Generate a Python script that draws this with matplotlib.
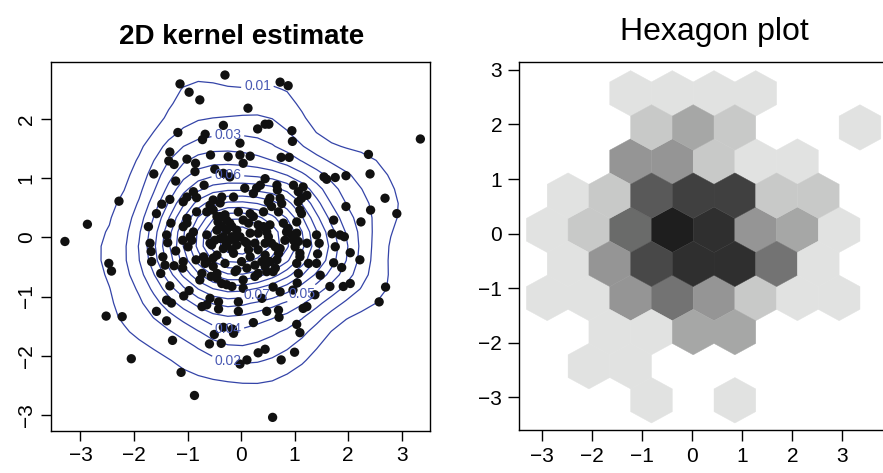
import numpy as np
import matplotlib
matplotlib.use("Agg")
import matplotlib.pyplot as plt
from matplotlib.colors import LinearSegmentedColormap

plt.rcParams['font.family'] = ['Liberation Sans', 'DejaVu Sans']

# scatter points
pts_x = [-0.30, -1.14, -0.97, -0.77, 0.73, 0.88, 0.13, -0.33, 0.31, 0.45,
         0.52, 0.95, 0.96, 3.35, -1.18, -0.67, -0.72, -0.02, -1.33, -1.35,
         -1.25, -1.01, -0.57, -0.24, -0.02, 0.17, 0.04, -0.85, -0.49, -0.86,
         -1.63, -0.33, -0.21, -1.22, -0.69, 0.75, 0.90, 2.38, 2.41, 1.96,
         1.76, 1.55, 1.60, 0.45, 0.36, 0.29, 0.07, 0.23, 0.67, 0.68,
         0.98, 1.16, 1.07, 1.23, 1.13, 2.69, 2.91, 2.42, 1.96, 2.24,
         1.73, 1.70, 1.85, 1.93, 1.41, 1.46, 1.76, -2.28, -0.89, -1.01,
         -1.08, -0.83, -1.33, -1.48, -0.52, -0.36, -0.14, -1.58, -2.87, -3.29,
         -1.31, -1.01, -0.83, -0.64, -1.73, -1.70, -1.08, -0.89, -0.39, 0.54,
         0.73, 0.76, 0.70, 0.51, 0.57, 0.42, 1.07, 1.10, 1.13, 1.04,
         0.79, 0.88, 0.85, 0.98, 1.04, 1.07, 1.23, -0.45, -0.30, -0.21,
         -0.36, -0.17, -0.08, 0.04, 0.17, 0.23, 0.14, 0.32, 0.42, 0.54,
         0.48, 0.32, 0.17, -0.02, -0.17, -0.33, -0.49, -0.58, -0.27, -0.08,
         0.11, 0.26, 0.45, -0.39, -0.58, -0.52, -0.43, -0.05, -0.39, -0.21,
         -1.01, -0.95, -1.39, -2.47, -2.42, -2.52, -2.22, -2.05, -1.12, -0.87,
         -1.58, -1.39, -1.28, -1.68, -1.67, -1.46, -1.42, -1.50, -1.37, -1.22,
         -1.25, -1.09, -0.92, -0.99, -1.08, -1.09, -0.84, -0.70, -0.64, -0.52,
         -0.17, -0.73, -0.77, -1.33, -0.97, -1.07, -0.56, -0.45, -0.36, -0.27,
         -0.17, -0.11, -1.39, -1.30, -0.73, -0.64, -0.58, -0.42, -0.42, -0.05,
         -0.05, -0.33, -0.16, -0.14, -0.50, -0.59, -0.37, -0.02, 2.70, 2.58,
         2.22, 2.04, 1.43, 1.26, 1.41, 1.73, 1.88, 1.66, 1.91, 2.04,
         1.38, 1.48, 1.10, 1.04, 1.07, 1.05, 0.97, 0.73, 0.60, 0.39,
         1.23, 1.16, 1.04, 1.10, 1.00, 0.75, 0.45, 0.32, 0.11, 0.59,
         0.70, 0.71, 0.48, 0.23, 0.04, -0.45, 0.04, 0.26, 0.32, -0.64,
         -0.55, -0.33, -0.45, -0.14, 0.01, 0.17, 0.32, 0.45, 0.54, 0.45,
         0.60, 0.67, 0.82, 0.95, 1.01, 1.10, 0.73, 0.57, 0.51, 0.26,
         0.11, -0.08, -0.67, -0.52, -0.30, 0.64, 0.70, 0.39, 0.64, 0.48,
         -0.30, -0.11, 0.07, 0.14, -0.27, -0.27, -0.45]
pts_y = [2.74, 2.59, 2.45, 2.32, 2.62, 2.56, 2.18, 1.89, 1.83, 1.91,
         1.91, 1.80, 1.62, 1.66, 1.77, 1.74, 1.65, 1.59, 1.44, 1.29,
         1.23, 1.32, 1.39, 1.36, 1.39, 1.37, 1.25, 1.25, 1.15, 1.11,
         1.07, 1.08, 1.02, 0.95, 0.88, 1.35, 1.35, 1.40, 1.07, 1.04,
         1.01, 1.02, 0.98, 0.99, 0.88, 0.83, 0.83, 0.74, 0.88, 0.80,
         0.88, 0.85, 0.77, 0.71, 0.66, 0.66, 0.40, 0.46, 0.52, 0.26,
         0.29, 0.06, 0.04, 0.01, 0.04, -0.10, -0.16, 0.61, 0.77, 0.68,
         0.60, 0.67, 0.64, 0.56, 0.63, 0.68, 0.68, 0.40, 0.22, -0.07,
         0.24, 0.32, 0.43, 0.43, 0.18, -0.10, 0.18, 0.09, 0.35, 0.66,
         0.66, 0.57, 0.43, 0.60, 0.52, 0.43, 0.60, 0.46, 0.40, 0.26,
         0.24, 0.15, 0.09, -0.05, 0.07, -0.07, -0.10, 0.35, 0.38, 0.24,
         0.18, 0.18, 0.12, 0.29, 0.40, 0.35, 0.24, 0.21, 0.18, 0.21,
         0.09, 0.07, 0.07, 0.01, 0.01, 0.01, -0.05, -0.10, -0.13, -0.13,
         -0.10, -0.10, -0.10, 0.58, 0.54, 0.46, 0.26, 0.43, -0.02, -0.05,
         0.24, 0.01, 0.04, -0.44, -0.57, -1.33, -1.34, -2.05, -2.28, -2.67,
         -1.25, -1.41, -1.74, -0.24, -0.41, -0.33, -0.47, -0.61, -0.09, -0.23,
         -0.48, -0.05, -0.05, -0.16, -0.41, -0.52, -0.38, -0.33, -0.41, -0.35,
         -0.21, -0.61, -0.72, -0.82, -0.90, -0.99, -0.66, -0.69, -0.78, -0.80,
         -0.83, -0.58, -1.06, -1.11, -1.17, -1.14, -1.03, -1.09, -1.21, -1.09,
         -1.25, -1.52, -1.55, -1.62, -1.64, -1.80, -1.79, -2.14, -0.84, -1.09,
         -0.38, -0.26, -0.28, -0.44, -0.44, -0.43, -0.51, -0.83, -0.83, -0.78,
         -0.97, -0.64, -0.33, -0.44, -0.61, -0.77, -0.89, -0.92, -0.84, -1.03,
         -1.17, -1.20, -1.47, -1.61, -1.94, -2.07, -1.89, -1.95, -2.07, -3.04,
         -1.23, -1.35, -1.25, -1.44, -0.86, -0.61, -0.72, -0.66, -0.61, 0.04,
         -0.13, -0.19, -0.30, -0.27, -0.41, -0.33, -0.21, -0.30, -0.41, -0.49,
         -0.58, -0.38, -0.05, 0.04, -0.16, -0.27, -0.19, -0.10, 0.01, -0.47,
         -0.52, -0.55, -0.44, -0.49, -0.44, -0.16, -0.27, -0.41, -0.52, -0.58,
         -0.05, -0.02, -0.07, -0.21, 0.29, 0.12, 0.12]

# contour levels and where each label sits
contour_levels = [0.01, 0.02, 0.03, 0.04, 0.05, 0.06, 0.07, 0.08, 0.09,
                  0.10, 0.11, 0.12, 0.13, 0.14, 0.15]
label_levels = [0.01, 0.02, 0.03, 0.04, 0.05, 0.06, 0.07]
label_spots = [(0.21, 2.47), (-0.24, -2.04), (-0.15, 1.74), (-0.36, -1.49),
               (1.23, -0.99), (-0.21, 1.18), (0.17, -0.99)]

# hexagon cells (centres) and counts
hex_x = [-1.233, -0.4, 0.433, 1.267,
         -0.817, 0.017, 0.85, 3.35,
         -1.233, -0.4, 0.433, 1.267, 2.1,
         -2.483, -1.65, -0.817, 0.017, 0.85, 1.683, 2.517,
         -2.9, -2.067, -1.233, -0.4, 0.433, 1.267, 2.1, 2.933,
         -2.483, -1.65, -0.817, 0.017, 0.85, 1.683, 2.517,
         -2.9, -2.067, -1.233, -0.4, 0.433, 1.267, 2.1, 2.933,
         -1.65, -0.817, 0.017, 0.85,
         -2.067, -1.233,
         -0.817, 0.85]
hex_y = [2.57] * 4 + [1.945] * 4 + [1.32] * 5 + [0.695] * 7 + [0.07] * 8 \
    + [-0.555] * 7 + [-1.18] * 8 + [-1.805] * 4 + [-2.43] * 2 + [-3.055] * 2
hex_n = [1, 1, 1, 1,
         4, 8, 4, 1,
         10, 10, 4, 1, 1,
         1, 4, 17, 20, 20, 4, 4,
         1, 4, 15, 24, 22, 10, 8, 1,
         1, 10, 19, 22, 22, 14, 1,
         1, 1, 10, 14, 10, 4, 1, 1,
         1, 1, 8, 8,
         1, 1,
         1, 1]


def bandwidth_nrd(v):
    q1, q3 = np.percentile(v, [25, 75])
    h = (q3 - q1) / 1.34
    return 4 * 1.06 * min(np.std(v, ddof=1), h) * len(v) ** (-0.2)


def kde2d(x, y, n=25, widen=1.35):
    gx = np.linspace(x.min(), x.max(), n)
    gy = np.linspace(y.min(), y.max(), n)
    hx = bandwidth_nrd(x) / 4 * widen
    hy = bandwidth_nrd(y) / 4 * widen
    kx = np.exp(-0.5 * ((gx[:, None] - x[None, :]) / hx) ** 2) / np.sqrt(2 * np.pi)
    ky = np.exp(-0.5 * ((gy[:, None] - y[None, :]) / hy) ** 2) / np.sqrt(2 * np.pi)
    z = kx @ ky.T / (len(x) * hx * hy)
    return gx, gy, z


def nearest_on_level(cs, lev, spot):
    # point of the contour of level `lev` closest to `spot`
    idx = int(np.argmin(np.abs(np.asarray(cs.levels) - lev)))
    segs = [s for s in cs.allsegs[idx] if len(s)]
    if not segs:
        return None
    verts = np.vstack(segs)
    d = np.hypot(verts[:, 0] - spot[0], verts[:, 1] - spot[1])
    return tuple(verts[np.argmin(d)])


x = np.array(pts_x)
y = np.array(pts_y)
gx, gy, z = kde2d(x, y)

W, H = 883, 473
fig = plt.figure(figsize=(W / 100, H / 100), dpi=100)

# left panel
ax1 = fig.add_axes([51 / W, 1 - 431 / H, (430 - 51) / W, (431 - 62) / H])
line_col = '#3444a8'
cs = ax1.contour(gx, gy, z.T, levels=contour_levels, colors=line_col, linewidths=0.9)
spots = [nearest_on_level(cs, lev, sp) for lev, sp in zip(label_levels, label_spots)]
spots = [s for s in spots if s is not None]
labels = ax1.clabel(cs, manual=spots, fmt='%g', fontsize=10, colors='#4a5ab4',
                    inline=True, inline_spacing=4)
for t in labels:
    t.set_rotation(0)
ax1.scatter(x, y, s=45, c='#111111', edgecolors='none', zorder=3)
ax1.set_xlim(-3.55, 3.53)
ax1.set_ylim(-3.27, 2.96)
ax1.set_xticks(range(-3, 4))
ax1.set_yticks(range(-3, 3))
ax1.tick_params(direction='out', length=7, width=1, labelsize=15, pad=4)
ax1.tick_params(axis='y', labelrotation=90)
for lab in ax1.get_yticklabels():
    lab.set_va('center')
for sp in ax1.spines.values():
    sp.set_linewidth(1)
fig.text(242 / W, 1 - 44.5 / H, '2D kernel estimate', ha='center', va='baseline',
         fontsize=20, fontweight='bold')

# right panel
ax2 = fig.add_axes([518.7 / W, 1 - 430 / H, (890 - 518.7) / W, (430 - 61.7) / H])
greys = LinearSegmentedColormap.from_list('hexgrey', ['#e1e2e1', '#1e1e1e'])
ax2.hexbin(hex_x, hex_y, C=hex_n, reduce_C_function=np.sum,
           gridsize=(10, 6), extent=(-3.7333, 4.6, -3.68, 3.82),
           cmap=greys, vmin=1, vmax=24, linewidths=0.3, edgecolors='face')
ax2.set_xlim(-3.47, 3.95)
ax2.set_ylim(-3.6, 3.15)
ax2.set_xticks(range(-3, 4))
ax2.set_yticks(range(-3, 4))
ax2.tick_params(direction='out', length=8, width=1, labelsize=15, pad=4)
for sp in ax2.spines.values():
    sp.set_linewidth(1)
fig.text(714 / W, 1 - 40 / H, 'Hexagon plot', ha='center', va='baseline', fontsize=23)

fig.savefig('out.png', dpi=100)
